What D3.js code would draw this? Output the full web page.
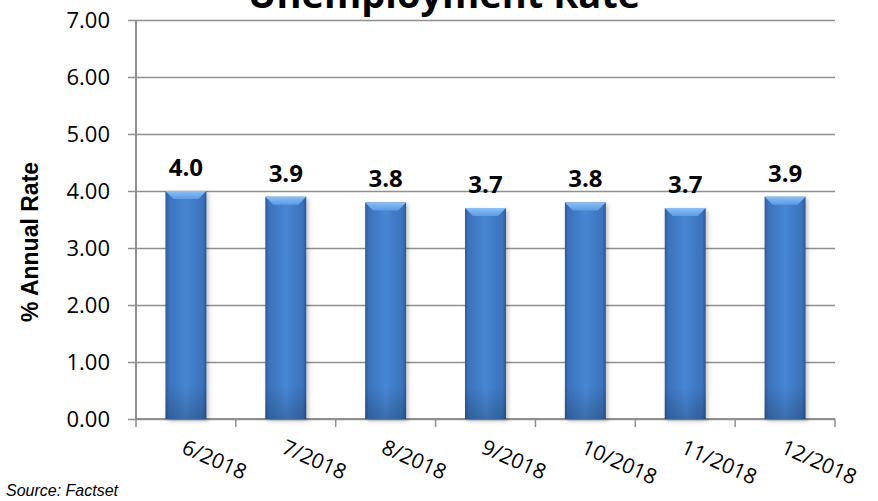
<!DOCTYPE html>
<html>
<head>
<meta charset="utf-8">
<script src="https://cdn.jsdelivr.net/npm/d3@7"></script>
<style>
  html, body { margin: 0; padding: 0; background: #fff; }
  svg { display: block; }
</style>
</head>
<body>
<script>
// Monthly unemployment rate, mid–late 2018
const months = ["6/2018", "7/2018", "8/2018", "9/2018", "10/2018", "11/2018", "12/2018"];
const rates = [4.0, 3.9, 3.8, 3.7, 3.8, 3.7, 3.9];
const yTicks = [0, 1, 2, 3, 4, 5, 6, 7];

const W = 878, H = 501;
const plot = { left: 136, right: 835, top: 20, bottom: 419 };

const svg = d3.select("body").append("svg")
  .attr("width", W).attr("height", H);

const defs = svg.append("defs");

// horizontal shading gives the bars a rounded, bevelled look
const body = defs.append("linearGradient").attr("id", "barBody")
  .attr("x1", "0").attr("x2", "1").attr("y1", "0").attr("y2", "0");
[[0, "#2c5a97"], [0.08, "#3a72bb"], [0.5, "#4786d3"], [0.92, "#3a72bb"], [1, "#2a5690"]]
  .forEach(([o, c]) => body.append("stop").attr("offset", o).attr("stop-color", c));

const shade = defs.append("linearGradient").attr("id", "barShade")
  .attr("x1", "0").attr("x2", "0").attr("y1", "0").attr("y2", "1");
[[0, "#ffffff", 0.0], [0.85, "#000000", 0.0], [1, "#000000", 0.18]]
  .forEach(([o, c, a]) => shade.append("stop").attr("offset", o).attr("stop-color", c).attr("stop-opacity", a));

const capGrad = defs.append("linearGradient").attr("id", "barCap")
  .attr("x1", "0").attr("x2", "0").attr("y1", "0").attr("y2", "1");
[[0, "#8cc0f5"], [1, "#5c9ae2"]]
  .forEach(([o, c]) => capGrad.append("stop").attr("offset", o).attr("stop-color", c));

const shadow = defs.append("filter").attr("id", "barShadow")
  .attr("x", "-20%").attr("y", "-5%").attr("width", "150%").attr("height", "115%");
shadow.append("feDropShadow").attr("dx", 2).attr("dy", 2).attr("stdDeviation", 2)
  .attr("flood-color", "#000").attr("flood-opacity", 0.25);

const x = d3.scaleBand().domain(months)
  .range([plot.left, plot.right]).paddingInner(0.59).paddingOuter(0.295);
const xCat = d3.scaleBand().domain(months).range([plot.left, plot.right]);
const y = d3.scaleLinear().domain([0, 7]).range([plot.bottom, plot.top]);

const gridColor = "#8f8f8f";

// horizontal gridlines with short ticks to the left of the axis
const yAxis = d3.axisLeft(y).tickValues(yTicks).tickFormat(d3.format(".2f"))
  .tickSize(-(plot.right - plot.left)).tickSizeOuter(0).tickPadding(26);
const yg = svg.append("g").attr("transform", `translate(${plot.left},0)`).call(yAxis);
yg.select(".domain").remove();
yg.selectAll(".tick line").attr("x1", -8).attr("stroke", gridColor).attr("stroke-width", 1.5);
yg.selectAll(".tick text")
  .attr("font-family", "'Open Sans', sans-serif").attr("font-size", 22).attr("fill", "#000")
  .attr("dy", "0.36em");

// vertical axis line
svg.append("line")
  .attr("x1", plot.left).attr("x2", plot.left).attr("y1", plot.top).attr("y2", plot.bottom)
  .attr("stroke", gridColor).attr("stroke-width", 2);

// category axis: ticks on category boundaries
const xg = svg.append("g").attr("transform", `translate(0,${plot.bottom})`);
xg.append("line").attr("x1", plot.left).attr("x2", plot.right)
  .attr("stroke", gridColor).attr("stroke-width", 2);
const bounds = months.map(m => xCat(m)).concat([xCat(months[months.length - 1]) + xCat.bandwidth()]);
xg.selectAll("line.tk").data(bounds).join("line").attr("class", "tk")
  .attr("x1", d => d).attr("x2", d => d).attr("y1", 0).attr("y2", 8)
  .attr("stroke", gridColor).attr("stroke-width", 1.5);

xg.selectAll("text.lbl").data(months).join("text").attr("class", "lbl")
  .attr("transform", d => `translate(${xCat(d) + xCat.bandwidth() / 2 + 1},19) rotate(24)`)
  .attr("dy", "0.75em")
  .attr("text-anchor", "start")
  .attr("font-family", "'Open Sans', sans-serif").attr("font-size", 21).attr("fill", "#000")
  .text(d => d);

// bars
const bars = svg.append("g").selectAll("g.bar").data(months.map((m, i) => ({ m, v: rates[i] })))
  .join("g").attr("class", "bar");

bars.append("rect")
  .attr("x", d => x(d.m)).attr("y", d => y(d.v))
  .attr("width", x.bandwidth()).attr("height", d => y(0) - y(d.v))
  .attr("fill", "url(#barBody)").attr("filter", "url(#barShadow)");
bars.append("rect")
  .attr("x", d => x(d.m)).attr("y", d => y(d.v))
  .attr("width", x.bandwidth()).attr("height", d => y(0) - y(d.v))
  .attr("fill", "url(#barShade)");
// bevelled top face
bars.append("path")
  .attr("d", d => {
    const x0 = x(d.m), x1 = x0 + x.bandwidth(), t = y(d.v), b = 8;
    return `M${x0},${t}L${x1},${t}L${x1 - b},${t + b}L${x0 + b},${t + b}Z`;
  })
  .attr("fill", "url(#barCap)");

// value labels
svg.append("g").selectAll("text").data(months.map((m, i) => ({ m, v: rates[i] })))
  .join("text")
  .attr("x", d => x(d.m) + x.bandwidth() / 2)
  .attr("y", d => y(d.v) - 15)
  .attr("text-anchor", "middle")
  .attr("font-family", "'Open Sans', sans-serif").attr("font-weight", 700)
  .attr("font-size", 24).attr("fill", "#000")
  .text(d => d3.format(".1f")(d.v));

// y-axis title
svg.append("text")
  .attr("transform", `translate(38,242) rotate(-90)`)
  .attr("text-anchor", "middle")
  .attr("font-family", "'Liberation Sans', Arial, sans-serif").attr("font-weight", 700)
  .attr("font-size", 23).attr("fill", "#000")
  .text("% Annual Rate");

// chart title
svg.append("text")
  .attr("x", 444).attr("y", 8)
  .attr("text-anchor", "middle")
  .attr("font-family", "'Open Sans', sans-serif").attr("font-weight", 700)
  .attr("font-size", 38).attr("fill", "#000")
  .text("Unemployment Rate");

// source note
svg.append("text")
  .attr("x", 6).attr("y", 496)
  .attr("font-family", "'Liberation Sans', Arial, sans-serif").attr("font-style", "italic")
  .attr("font-size", 16).attr("fill", "#000")
  .text("Source: Factset");
</script>
</body>
</html>
